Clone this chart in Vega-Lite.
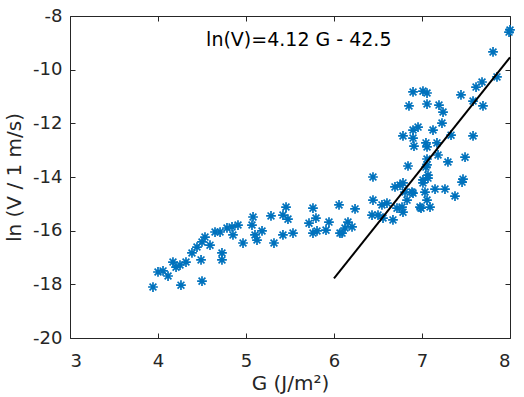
{
  "$schema": "https://vega.github.io/schema/vega-lite/v6.json",
  "width": 440,
  "height": 322,
  "autosize": {"type": "none"},
  "padding": {"left": 70, "top": 16, "right": 14, "bottom": 59},
  "background": "white",
  "config": {
    "view": {"stroke": null},
    "font": "DejaVu Sans",
    "axis": {
      "grid": false,
      "domainColor": "#262626",
      "domainWidth": 1,
      "tickColor": "#262626",
      "tickSize": -5,
      "tickWidth": 1,
      "labelColor": "#262626",
      "labelFont": "DejaVu Sans",
      "labelFontSize": 18,
      "titleColor": "#262626",
      "titleFont": "DejaVu Sans",
      "titleFontSize": 20,
      "titleFontWeight": "normal"
    }
  },
  "datasets": {
    "pts": [
      {"G": 3.943, "lnV": -18.10}, {"G": 4.0, "lnV": -17.54}, {"G": 4.057, "lnV": -17.50}, {"G": 4.114, "lnV": -17.69},
      {"G": 4.170, "lnV": -17.17}, {"G": 4.205, "lnV": -17.36}, {"G": 4.25, "lnV": -17.28}, {"G": 4.318, "lnV": -17.17},
      {"G": 4.261, "lnV": -18.03}, {"G": 4.489, "lnV": -17.09}, {"G": 4.5, "lnV": -17.88}, {"G": 4.386, "lnV": -16.83},
      {"G": 4.443, "lnV": -16.61}, {"G": 4.5, "lnV": -16.42}, {"G": 4.534, "lnV": -16.24}, {"G": 4.591, "lnV": -16.54},
      {"G": 4.648, "lnV": -16.05}, {"G": 4.705, "lnV": -16.05}, {"G": 4.784, "lnV": -15.90}, {"G": 4.841, "lnV": -15.86},
      {"G": 4.852, "lnV": -16.16}, {"G": 4.909, "lnV": -15.79}, {"G": 4.727, "lnV": -16.83}, {"G": 4.727, "lnV": -17.09},
      {"G": 4.966, "lnV": -16.46}, {"G": 5.080, "lnV": -15.49}, {"G": 5.068, "lnV": -15.79}, {"G": 5.102, "lnV": -16.16},
      {"G": 5.125, "lnV": -16.35}, {"G": 5.182, "lnV": -16.01}, {"G": 5.284, "lnV": -15.45}, {"G": 5.318, "lnV": -16.46},
      {"G": 5.420, "lnV": -16.16}, {"G": 5.455, "lnV": -15.12}, {"G": 5.420, "lnV": -15.42}, {"G": 5.477, "lnV": -15.57},
      {"G": 5.534, "lnV": -16.09}, {"G": 5.761, "lnV": -15.16}, {"G": 5.716, "lnV": -15.72}, {"G": 5.795, "lnV": -15.53},
      {"G": 5.761, "lnV": -16.09}, {"G": 5.807, "lnV": -16.01}, {"G": 5.909, "lnV": -15.98}, {"G": 5.943, "lnV": -15.68},
      {"G": 6.057, "lnV": -15.04}, {"G": 6.068, "lnV": -16.09}, {"G": 6.239, "lnV": -15.19}, {"G": 6.159, "lnV": -15.68},
      {"G": 6.125, "lnV": -15.90}, {"G": 6.091, "lnV": -16.09}, {"G": 6.205, "lnV": -15.86}, {"G": 6.443, "lnV": -14.00},
      {"G": 6.443, "lnV": -14.86}, {"G": 6.545, "lnV": -15.04}, {"G": 6.602, "lnV": -14.97}, {"G": 6.432, "lnV": -15.42},
      {"G": 6.5, "lnV": -15.42}, {"G": 6.557, "lnV": -15.53}, {"G": 6.670, "lnV": -15.60}, {"G": 6.693, "lnV": -14.37},
      {"G": 6.75, "lnV": -14.30}, {"G": 6.807, "lnV": -14.56}, {"G": 6.773, "lnV": -15.12}, {"G": 6.784, "lnV": -15.31},
      {"G": 6.830, "lnV": -14.86}, {"G": 6.886, "lnV": -14.56}, {"G": 6.841, "lnV": -13.59}, {"G": 7.011, "lnV": -14.22},
      {"G": 7.034, "lnV": -14.56}, {"G": 6.989, "lnV": -15.16}, {"G": 7.057, "lnV": -13.55}, {"G": 7.057, "lnV": -14.86},
      {"G": 7.068, "lnV": -13.93}, {"G": 6.898, "lnV": -10.83}, {"G": 7.011, "lnV": -10.80}, {"G": 7.057, "lnV": -10.87},
      {"G": 6.852, "lnV": -11.35}, {"G": 7.057, "lnV": -11.28}, {"G": 7.193, "lnV": -11.32}, {"G": 7.239, "lnV": -11.58},
      {"G": 7.443, "lnV": -10.94}, {"G": 7.614, "lnV": -10.65}, {"G": 7.580, "lnV": -11.17}, {"G": 7.227, "lnV": -11.99},
      {"G": 7.125, "lnV": -12.25}, {"G": 6.955, "lnV": -12.14}, {"G": 6.898, "lnV": -12.25}, {"G": 6.784, "lnV": -12.47},
      {"G": 6.898, "lnV": -12.55}, {"G": 6.909, "lnV": -12.85}, {"G": 7.045, "lnV": -12.73}, {"G": 7.057, "lnV": -12.88},
      {"G": 7.170, "lnV": -12.73}, {"G": 7.330, "lnV": -12.44}, {"G": 7.580, "lnV": -12.47}, {"G": 7.057, "lnV": -13.33},
      {"G": 7.182, "lnV": -13.18}, {"G": 7.295, "lnV": -13.44}, {"G": 7.489, "lnV": -13.26}, {"G": 7.045, "lnV": -13.63},
      {"G": 7.466, "lnV": -14.08}, {"G": 7.455, "lnV": -14.19}, {"G": 7.068, "lnV": -14.04}, {"G": 7.011, "lnV": -14.11},
      {"G": 7.148, "lnV": -14.45}, {"G": 7.261, "lnV": -14.45}, {"G": 7.375, "lnV": -14.71}, {"G": 6.898, "lnV": -14.60},
      {"G": 6.784, "lnV": -14.22}, {"G": 6.977, "lnV": -15.12}, {"G": 7.091, "lnV": -15.12}, {"G": 6.716, "lnV": -15.16},
      {"G": 7.989, "lnV": -8.60}, {"G": 8.0, "lnV": -8.52}, {"G": 7.807, "lnV": -9.34}, {"G": 7.852, "lnV": -10.27},
      {"G": 7.682, "lnV": -10.46}, {"G": 7.693, "lnV": -11.35}
    ],
    "fit": [{"G": 6.0, "lnV": -17.78}, {"G": 8.0, "lnV": -9.54}],
    "note": [{"G": 5.6, "lnV": -8.9, "label": "ln(V)=4.12 G - 42.5"}]
  },
  "resolve": {"axis": {"x": "independent", "y": "independent"}, "scale": {"x": "shared", "y": "shared"}},
  "layer": [
    {
      "data": {"name": "pts"},
      "mark": {
        "type": "point",
        "shape": "M-1,0L1,0M0,-1L0,1M-0.7,-0.7L0.7,0.7M-0.7,0.7L0.7,-0.7",
        "filled": false,
        "stroke": "#0072BD",
        "strokeWidth": 1.7,
        "size": 95,
        "opacity": 1
      },
      "encoding": {
        "x": {"field": "G", "type": "quantitative", "scale": {"domain": [3, 8], "nice": false, "zero": false},
              "axis": {"orient": "bottom", "title": "G (J/m²)", "values": [3, 4, 5, 6, 7, 8], "labelExpr": "toString(datum.value)", "labelPadding": 19, "titlePadding": 3}},
        "y": {"field": "lnV", "type": "quantitative", "scale": {"domain": [-20, -8], "nice": false, "zero": false},
              "axis": {"orient": "left", "title": "ln (V / 1 m/s)", "values": [-20, -18, -16, -14, -12, -10, -8], "labelExpr": "toString(datum.value)", "labelPadding": 13, "titlePadding": 8}}
      }
    },
    {
      "data": {"name": "fit"},
      "mark": {"type": "line", "color": "black", "strokeWidth": 2},
      "encoding": {
        "x": {"field": "G", "type": "quantitative",
              "axis": {"orient": "top", "title": null, "labels": false, "values": [3, 4, 5, 6, 7, 8]}},
        "y": {"field": "lnV", "type": "quantitative",
              "axis": {"orient": "right", "title": null, "labels": false, "values": [-20, -18, -16, -14, -12, -10, -8]}}
      }
    },
    {
      "data": {"name": "note"},
      "mark": {"type": "text", "fontSize": 19, "color": "black", "font": "DejaVu Sans", "align": "center", "baseline": "middle"},
      "encoding": {
        "x": {"field": "G", "type": "quantitative", "axis": null},
        "y": {"field": "lnV", "type": "quantitative", "axis": null},
        "text": {"field": "label"}
      }
    }
  ]
}
